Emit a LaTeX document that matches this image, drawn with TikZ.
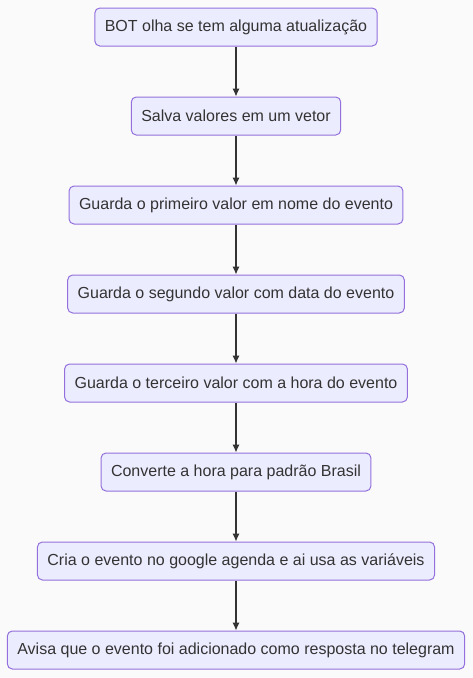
\documentclass[tikz,border=0pt]{standalone}
\usepackage{fontspec}
\setmainfont{Liberation Sans}
\usepackage{xcolor}
\usepackage{tikz}
\usetikzlibrary{arrows.meta,positioning,backgrounds}
\definecolor{MFill}{HTML}{ECECFF}
\definecolor{MStroke}{HTML}{9370DB}
\definecolor{MText}{HTML}{333333}
\definecolor{MPaper}{HTML}{FAFAFA}

\begin{document}
\begin{tikzpicture}[
  x=1pt,y=1pt,
  node distance=37.5pt,
  box/.style={draw=MStroke,rounded corners=3.75pt,fill=MFill,minimum height=28.5pt,
              inner xsep=7.5pt,inner ysep=0pt,align=center,text=MText,
              font=\fontsize{12}{14}\selectfont,line width=0.75pt},
  arr/.style={-{Latex[length=6pt,width=5.5pt]},line width=0.9pt,draw=MText}
]
\fill[MPaper] (0,0) rectangle (354.75,-508.5);
\useasboundingbox (0,0) rectangle (354.75,-508.5);
\node[box] (check) at (177,-20.25) {BOT olha se tem alguma atualização};
\node[box,below=of check] (save) {Salva valores em um vetor};
\node[box,below=of save] (first) {Guarda o primeiro valor em nome do evento};
\node[box,below=of first] (second) {Guarda o segundo valor com data do evento};
\node[box,below=of second] (third) {Guarda o terceiro valor com a hora do evento};
\node[box,below=of third] (convert) {Converte a hora para padrão Brasil};
\node[box,below=of convert] (create) {Cria o evento no google agenda e ai usa as variáveis};
\node[box,below=of create] (notify) {Avisa que o evento foi adicionado como resposta no telegram};
\draw[arr] (check) -- (save);
\draw[arr] (save) -- (first);
\draw[arr] (first) -- (second);
\draw[arr] (second) -- (third);
\draw[arr] (third) -- (convert);
\draw[arr] (convert) -- (create);
\draw[arr] (create) -- (notify);
\end{tikzpicture}
\end{document}
